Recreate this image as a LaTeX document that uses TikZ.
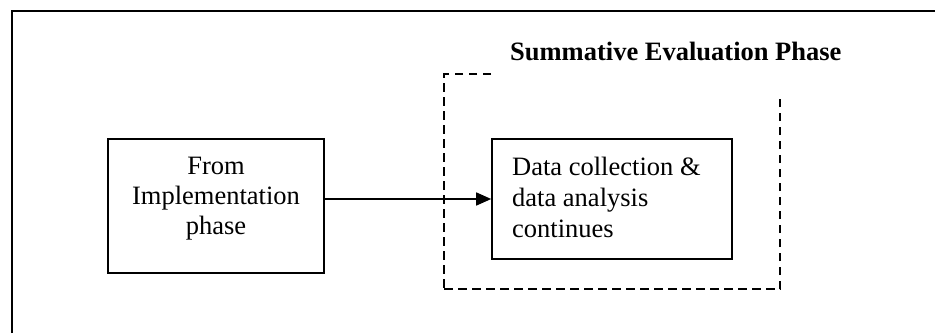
\documentclass[tikz,border=0pt]{standalone}
\usepackage{fontspec}
\setmainfont{Liberation Serif}
\usetikzlibrary{arrows.meta}

\tikzset{
  x=1pt, y=1pt,
  solidbox/.style={draw, line width=1.6pt, inner sep=0pt},
  phasebox/.style={draw, dashed, line width=1.4pt, dash pattern=on 8.5pt off 5.5pt, inner sep=0pt},
  bodytext/.style={font=\fontsize{26.5}{30}\selectfont, inner sep=0pt},
  titletext/.style={font=\fontsize{26.5}{30}\selectfont\bfseries},
  flow/.style={line width=1.5pt, -{Triangle[length=15pt, width=13pt]}},
  frame/.style={line width=1.7pt}
}

\begin{document}
\begin{tikzpicture}
  \useasboundingbox (0,0) rectangle (935,-333);

  % dashed phase region
  \node[phasebox, minimum width=336pt, minimum height=215pt] (phase) at (612,-181.5) {};

  % phase heading on a white patch that hides part of the dashed outline
  \node[titletext, fill=white, anchor=base west, inner xsep=18pt, inner ysep=0pt, text depth=37pt]
    (title) at (492,-60) {Summative Evaluation Phase};

  % source box
  \node[solidbox, minimum width=216pt, minimum height=134pt] (src) at (216,-206) {};
  \node[bodytext, align=center] (srctext) at (216,-199) {From\\Implementation\\phase};

  % destination box
  \node[solidbox, minimum width=240pt, minimum height=120pt] (dst) at (612,-199) {};
  \node[bodytext, align=left, anchor=west, font=\fontsize{26.5}{31}\selectfont] (dsttext) at (512,-197)
    {Data collection \&\\data analysis\\continues};

  % connector
  \draw[flow] (src.east |- dst.west) -- (dst.west);

  % outer frame (left and top edges)
  \coordinate (fbl) at (12,-333);
  \coordinate (ftl) at (12,-11);
  \coordinate (ftr) at (935,-11);
  \draw[frame] (fbl) -- (ftl) -- (ftr);
\end{tikzpicture}
\end{document}
